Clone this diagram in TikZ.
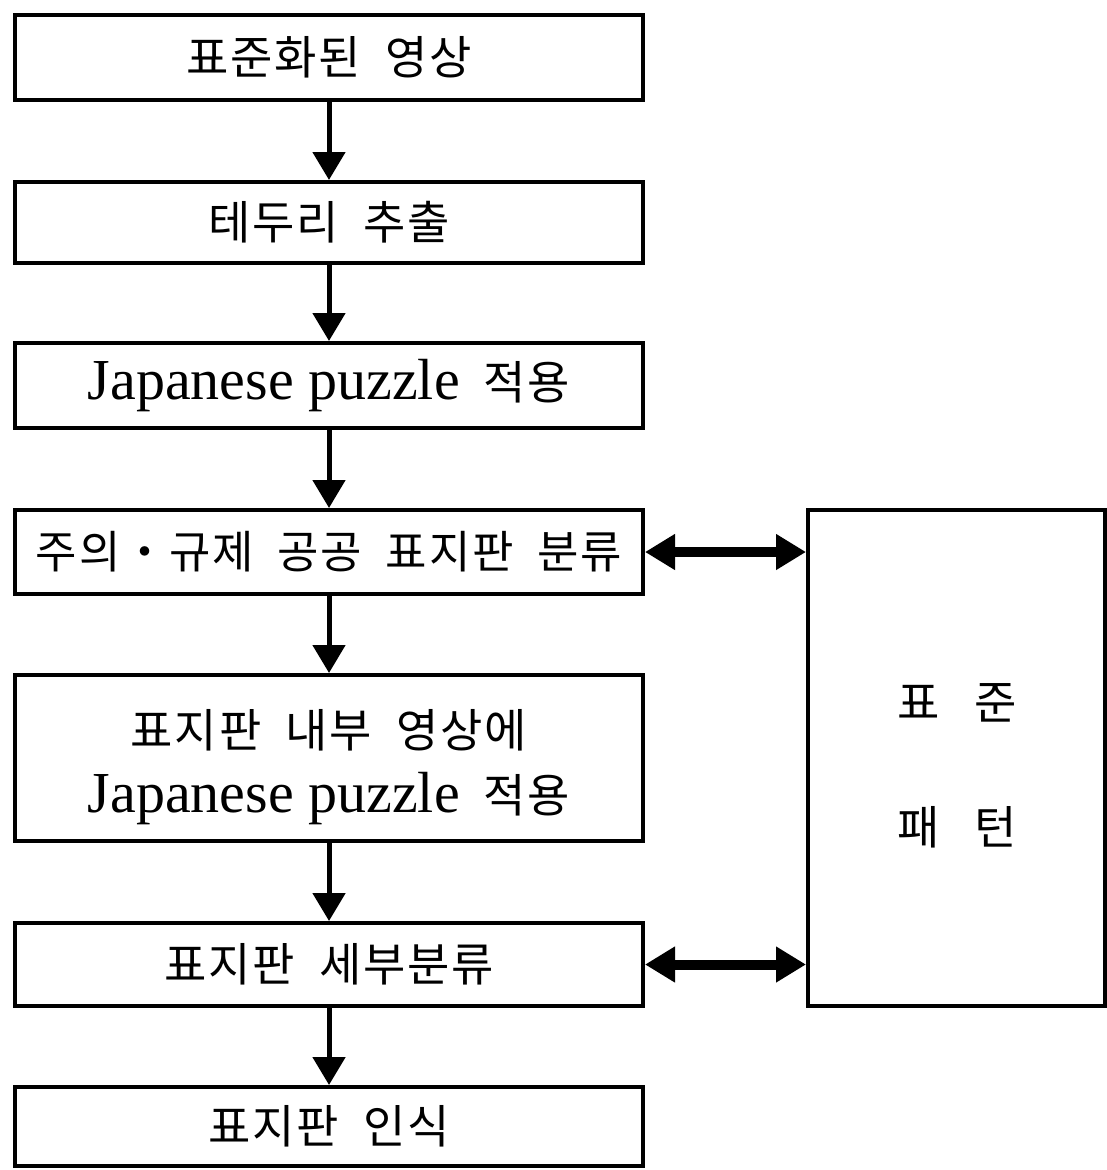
\documentclass[tikz,border=0pt]{standalone}
\usepackage{fontspec}
\setmainfont{Liberation Serif}
\newfontfamily\kr[LetterSpace=4,WordSpace=2]{Noto Sans CJK KR}
\usetikzlibrary{arrows.meta}
\begin{document}
\begin{tikzpicture}[x=1pt,y=-1pt,
  box/.style={draw, line width=4pt, minimum width=628pt, inner sep=0pt, align=center,
    font=\fontsize{46}{67}\selectfont\kr},
  flow/.style={line width=5pt, -{Triangle[width=32pt,length=28pt]}},
  both/.style={line width=10pt, {Triangle[width=34pt,length=30pt]}-{Triangle[width=34pt,length=30pt]}},
  lbl/.style={inner sep=0pt, font=\fontsize{46}{50}\selectfont\kr}]
\useasboundingbox (0,0) rectangle (1107,1170);
\node[box, minimum height=85pt] (b1) at (329,57.5) {표준화된 영상};
\node[box, minimum height=81pt] (b2) at (329,222.5) {테두리 추출};
\node[box, minimum height=85pt] (b3) at (329,385.5) {{\fontsize{58}{67}\selectfont\rmfamily Japanese puzzle}\hspace{24pt}적용};
\node[box, minimum height=84pt] (b4) at (329,552) {\fontsize{45}{50}\selectfont 주의・규제 공공 표지판 분류};
\node[box, minimum height=166pt] (b5) at (329,758) {};
\node[lbl] (l5a) at (329,730) {표지판 내부 영상에};
\node[inner sep=0pt] (l5b) at (329,799) {{\fontsize{58}{67}\selectfont Japanese puzzle}\hspace{24pt}{\fontsize{46}{50}\selectfont\kr 적용}};
\node[box, minimum height=83pt] (b6) at (329,964.5) {표지판 세부분류};
\node[box, minimum height=79pt] (b7) at (329,1126.5) {표지판 인식};
\node[box, minimum width=297pt, minimum height=496pt] (p) at (956.5,758) {};
\node[lbl] (t1) at (957,703) {표\hspace{34pt}준};
\node[lbl] (t2) at (957,827) {패\hspace{34pt}턴};
\draw[flow] (b1) -- (b2);
\draw[flow] (b2) -- (b3);
\draw[flow] (b3) -- (b4);
\draw[flow] (b4) -- (b5);
\draw[flow] (b5) -- (b6);
\draw[flow] (b6) -- (b7);
\draw[both] (b4.east) -- (b4.east -| p.west);
\draw[both] (b6.east) -- (b6.east -| p.west);
\end{tikzpicture}
\end{document}
